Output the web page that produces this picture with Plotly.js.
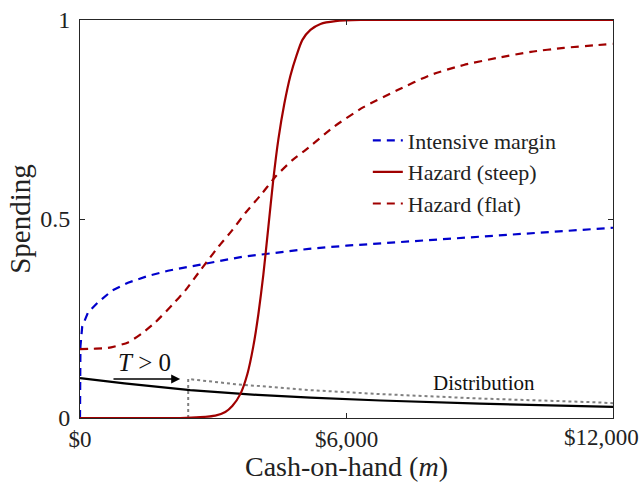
<!DOCTYPE html>
<html>
<head>
<meta charset="utf-8">
<script src="https://cdn.plot.ly/plotly-3.0.1.min.js"></script>
<style>html,body{margin:0;padding:0;background:#fff;}#chart{width:643px;height:482px;}</style>
</head>
<body>
<div id="chart"></div>
<script>
// Intensive margin (blue dashed)
const intX = [0, 0, 10, 50, 180, 400, 720, 1080, 1530, 1980, 2440, 2890, 3650, 4400, 5150, 6000, 7300, 8640, 10200, 11770, 12000];
const intY = [0, 0.12, 0.18, 0.23, 0.265, 0.29, 0.32, 0.34, 0.357, 0.37, 0.38, 0.39, 0.405, 0.415, 0.425, 0.433, 0.443, 0.452, 0.464, 0.477, 0.478];

// Hazard (steep) (dark red solid)
const steepX = [0, 1500, 2256, 2707, 3045, 3271, 3429, 3609, 3767, 3902, 4015, 4128, 4241, 4353, 4466, 4601, 4737, 4872, 5007, 5188, 5414, 5752, 6316, 9000, 12000];
const steepY = [0, 0, 0.0, 0.002, 0.006, 0.015, 0.03, 0.06, 0.11, 0.18, 0.26, 0.36, 0.48, 0.60, 0.70, 0.79, 0.86, 0.91, 0.95, 0.975, 0.99, 0.997, 1.0, 1.0, 1.0];

// Hazard (flat) (dark red dashed)
const flatX = [0, 300, 632, 1083, 1398, 1692, 2075, 2368, 2662, 2887, 3113, 3429, 3722, 4105, 4398, 4782, 5075, 5707, 6383, 7150, 7895, 8639, 9406, 10150, 10895, 11662, 12000];
const flatY = [0.173, 0.174, 0.176, 0.19, 0.213, 0.24, 0.284, 0.32, 0.364, 0.397, 0.43, 0.472, 0.515, 0.565, 0.606, 0.648, 0.673, 0.731, 0.781, 0.824, 0.862, 0.887, 0.905, 0.92, 0.93, 0.937, 0.94];

// Distribution (black solid) and shifted distribution (grey dotted)
const distX = [0, 1000, 2480, 4000, 5188, 6767, 9000, 11730, 12000];
const distY = [0.1, 0.087, 0.07, 0.058, 0.051, 0.044, 0.036, 0.029, 0.028];
const shiftX = [2436, 2436, 3500, 5188, 6767, 9000, 11730, 12000];
const shiftY = [0, 0.098, 0.085, 0.07, 0.06, 0.049, 0.039, 0.037];

const xTickVals = [0, 6000, 12000];
const xTickText = ['$0', '$6,000', '$12,000'];
const yTickVals = [0, 0.5, 1];
const yTickText = ['0', '0.5', '1'];

const FONT = 'Liberation Serif, DejaVu Serif, serif';

const traces = [
  {x: distX, y: distY, mode: 'lines', line: {color: '#000000', width: 2.2}, showlegend: false, hoverinfo: 'skip'},
  {x: shiftX, y: shiftY, mode: 'lines', line: {color: '#808080', width: 2, dash: 'dot'}, showlegend: false, hoverinfo: 'skip'},
  {x: intX, y: intY, mode: 'lines', name: 'Intensive margin', line: {color: '#0000CC', width: 2.2, dash: '8px,6px'}},
  {x: steepX, y: steepY, mode: 'lines', name: 'Hazard (steep)', line: {color: '#A00000', width: 2.2, shape: 'spline', smoothing: 0.6}},
  {x: flatX, y: flatY, mode: 'lines', name: 'Hazard (flat)', line: {color: '#A00000', width: 2.2, dash: '8px,6px', shape: 'spline', smoothing: 0.6}}
];

// the last x tick label sits left of its tick in the reference (kept inside the figure)
const shownXTickText = xTickText.map((t, i) => i === xTickText.length - 1 ? '' : t);

const layout = {
  width: 643, height: 482,
  margin: {l: 80, r: 30, t: 20, b: 64},
  paper_bgcolor: '#ffffff', plot_bgcolor: '#ffffff',
  font: {family: FONT, size: 23, color: '#222222'},
  xaxis: {
    range: [0, 12000], tickvals: xTickVals, ticktext: shownXTickText,
    ticks: 'inside', ticklen: 5, tickcolor: '#262626', tickwidth: 1,
    showline: true, linecolor: '#262626', linewidth: 1, mirror: 'ticks',
    showgrid: false, zeroline: false,
    tickfont: {family: FONT, size: 23, color: '#222222'},
    automargin: false,
    title: {text: 'Cash-on-hand (<i>m</i>)', font: {family: FONT, size: 28, color: '#222222'}, standoff: 4}
  },
  yaxis: {
    range: [0, 1], tickvals: yTickVals, ticktext: yTickText,
    ticks: 'inside', ticklen: 5, tickcolor: '#262626', tickwidth: 1,
    showline: true, linecolor: '#262626', linewidth: 1, mirror: 'ticks',
    showgrid: false, zeroline: false, ticklabelstandoff: 4,
    tickfont: {family: FONT, size: 24, color: '#222222'},
    automargin: false,
    title: {text: 'Spending', font: {family: FONT, size: 29, color: '#222222'}, standoff: 1}
  },
  legend: {
    x: 0.54, y: 0.75, xanchor: 'left', yanchor: 'top',
    bgcolor: 'rgba(255,255,255,0)', borderwidth: 0,
    font: {family: FONT, size: 22, color: '#222222'},
    tracegroupgap: 0, itemwidth: 30
  },
  annotations: [
    {x: xTickVals[2], y: 0, xref: 'x', yref: 'paper', xanchor: 'right', yanchor: 'top',
     xshift: 28, yshift: -5, showarrow: false, text: xTickText[2],
     font: {family: FONT, size: 23, color: '#222222'}},
    {x: 2256, y: 0.098, ax: 720, ay: 0.098, xref: 'x', yref: 'y', axref: 'x', ayref: 'y',
     showarrow: true, arrowhead: 2, arrowsize: 1.2, arrowwidth: 1.5, arrowcolor: '#000', text: ''},
    {x: 1450, y: 0.14, xref: 'x', yref: 'y', showarrow: false, text: '<i>T</i> > 0',
     font: {family: FONT, size: 25, color: '#111'}},
    {x: 9100, y: 0.089, xref: 'x', yref: 'y', showarrow: false, text: 'Distribution',
     font: {family: FONT, size: 21, color: '#111'}}
  ]
};

Plotly.newPlot('chart', traces, layout, {displayModeBar: false, staticPlot: true});
</script>
</body>
</html>
